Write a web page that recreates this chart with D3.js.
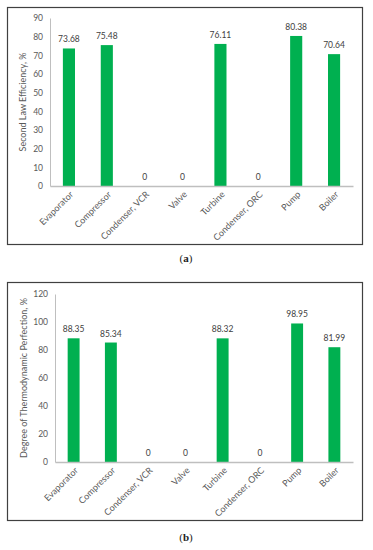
<!DOCTYPE html>
<html>
<head>
<meta charset="utf-8">
<script src="https://cdn.jsdelivr.net/npm/d3@7"></script>
<style>
body { margin: 0; background: #fff; }
svg text { font-family: Lato, "Open Sans", sans-serif; }
</style>
</head>
<body>
<script>
// Component names and the two efficiency series.
var categories = ['Evaporator', 'Compressor', 'Condenser, VCR', 'Valve', 'Turbine', 'Condenser, ORC', 'Pump', 'Boiler'];
var secondLaw = [73.68, 75.48, 0, 0, 76.11, 0, 80.38, 70.64];
var perfection = [88.35, 85.34, 0, 0, 88.32, 0, 98.95, 81.99];
var ticksA = [0, 10, 20, 30, 40, 50, 60, 70, 80, 90];
var ticksB = [0, 20, 40, 60, 80, 100, 120];

var width = 373, height = 550,
    green = '#00b050',
    textColor = '#595959';

var svg = d3.select('body').append('svg')
    .attr('width', width)
    .attr('height', height);

// Draws one boxed bar chart panel.
function drawPanel(opts) {
    var g = svg.append('g');

    g.append('rect')
        .attr('x', 7.5)
        .attr('y', opts.top + 0.5)
        .attr('width', 355)
        .attr('height', opts.boxHeight)
        .attr('fill', 'none')
        .attr('stroke', '#404040')
        .attr('stroke-width', 1.2);

    var x = d3.scaleBand()
        .domain(categories)
        .range([opts.left, 353])
        .paddingInner(0.68)
        .paddingOuter(0.34);

    var y = d3.scaleLinear()
        .domain([0, opts.max])
        .range([opts.zero, opts.zero - 168]);

    var yAxis = g.append('g')
        .attr('transform', 'translate(' + opts.left + ',0)')
        .call(d3.axisLeft(y).tickValues(opts.ticks).tickSize(0).tickPadding(7));
    yAxis.select('.domain').attr('stroke', '#bfbfbf');
    yAxis.selectAll('text')
        .attr('fill', textColor)
        .style('font-size', '8.5px');

    g.selectAll('.bar')
        .data(opts.values)
        .enter()
        .append('rect')
        .classed('bar', true)
        .attr('x', function(d, i) { return x(categories[i]); })
        .attr('width', x.bandwidth())
        .attr('y', function(d) { return y(d); })
        .attr('height', function(d) { return y(0) - y(d); })
        .attr('fill', green);

    g.selectAll('.val')
        .data(opts.values)
        .enter()
        .append('text')
        .classed('val', true)
        .attr('x', function(d, i) { return x(categories[i]) + x.bandwidth() / 2; })
        .attr('y', function(d) { return y(d) - 6; })
        .attr('text-anchor', 'middle')
        .attr('fill', '#404040')
        .style('font-size', '8.5px')
        .text(function(d) { return d; });

    var xAxis = g.append('g')
        .attr('transform', 'translate(0,' + opts.zero + ')')
        .call(d3.axisBottom(x).tickSize(0).tickPadding(0));
    xAxis.select('.domain').attr('stroke', '#bfbfbf').attr('stroke-width', 1.3);
    xAxis.selectAll('text')
        .attr('fill', textColor)
        .style('font-size', '9px')
        .attr('text-anchor', 'end')
        .attr('dy', 0)
        .attr('transform', 'translate(5,9) rotate(-45)');

    g.append('text')
        .attr('transform', 'translate(' + opts.titleX + ',' + (opts.zero - 84) + ') rotate(-90)')
        .attr('text-anchor', 'middle')
        .attr('fill', textColor)
        .style('font-size', '9px')
        .text(opts.title);

    var cap = g.append('text')
        .attr('x', 186)
        .attr('y', opts.capY)
        .attr('text-anchor', 'middle')
        .style('font-family', '"Liberation Serif", serif')
        .style('font-size', '11px')
        .attr('fill', '#222');
    cap.append('tspan').text('(');
    cap.append('tspan').style('font-weight', 'bold').text(opts.cap);
    cap.append('tspan').text(')');
}

drawPanel({
    top: 7, boxHeight: 237, left: 50, zero: 186, max: 90, ticks: ticksA,
    values: secondLaw, title: 'Second Law Efficiency, %', titleX: 26,
    cap: 'a', capY: 262
});

drawPanel({
    top: 282, boxHeight: 238, left: 55, zero: 462, max: 120, ticks: ticksB,
    values: perfection, title: 'Degree of Thermodynamic Perfection, %', titleX: 27,
    cap: 'b', capY: 541
});
</script>
</body>
</html>
